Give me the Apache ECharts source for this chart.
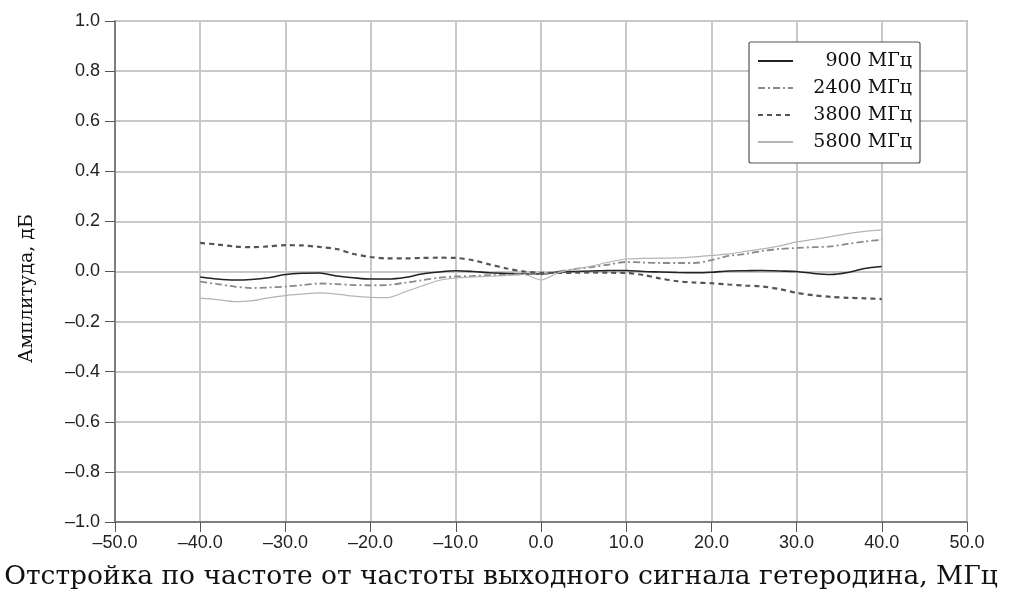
<!DOCTYPE html>
<html><head><meta charset="utf-8">
<script src="https://cdn.jsdelivr.net/npm/echarts@6/dist/echarts.min.js"></script>
<style>html,body{margin:0;padding:0;background:#fff}#c{width:1009px;height:599px}</style>
</head><body><div id="c"></div>
<script>
const offsets = [-40,-38,-36,-34,-32,-30,-28,-26,-24,-22,-20,-18,-16,-14,-12,-10,-8,-6,-4,-2,0,2,4,6,8,10,12,14,16,18,20,22,24,26,28,30,32,34,36,38,40];
const seriesNames = ['900 МГц','2400 МГц','3800 МГц','5800 МГц'];
const amp900 = [-0.022,-0.03,-0.034,-0.032,-0.025,-0.012,-0.007,-0.006,-0.018,-0.025,-0.03,-0.03,-0.024,-0.01,-0.002,0.003,0.0,-0.005,-0.008,-0.01,-0.01,-0.002,0.0,0.002,0.004,0.004,0.0,-0.002,-0.004,-0.005,-0.003,0.002,0.003,0.004,0.002,0.0,-0.008,-0.012,-0.004,0.012,0.02];
const amp2400 = [-0.04,-0.05,-0.06,-0.066,-0.064,-0.06,-0.054,-0.048,-0.05,-0.054,-0.055,-0.054,-0.045,-0.035,-0.025,-0.02,-0.018,-0.015,-0.013,-0.01,-0.01,0.0,0.01,0.018,0.028,0.038,0.036,0.034,0.034,0.034,0.045,0.062,0.07,0.082,0.09,0.094,0.097,0.1,0.11,0.12,0.126];
const amp3800 = [0.114,0.108,0.1,0.097,0.1,0.105,0.104,0.098,0.09,0.07,0.058,0.052,0.052,0.054,0.055,0.054,0.045,0.028,0.012,0.0,-0.005,-0.006,-0.005,-0.004,-0.005,-0.006,-0.014,-0.028,-0.039,-0.044,-0.047,-0.052,-0.056,-0.06,-0.07,-0.085,-0.095,-0.101,-0.105,-0.107,-0.11];
const amp5800 = [-0.106,-0.112,-0.12,-0.117,-0.105,-0.096,-0.09,-0.085,-0.09,-0.098,-0.103,-0.104,-0.082,-0.058,-0.036,-0.026,-0.022,-0.019,-0.016,-0.012,-0.034,-0.005,0.01,0.022,0.038,0.05,0.052,0.053,0.054,0.058,0.064,0.07,0.08,0.09,0.102,0.118,0.128,0.139,0.151,0.16,0.166];
const xTitle = 'Отстройка по частоте от частоты выходного сигнала гетеродина, МГц';
const yTitle = 'Амплитуда, дБ';

const pair = a => offsets.map((x,i)=>[x,a[i]]);
const fmt = v => v.toFixed(1).replace('-', '\u2013');
const chart = echarts.init(document.getElementById('c'));
const styles = [
  {color:'#222', width:1.6, type:'solid'},
  {color:'#8a8a8a', width:1.8, type:[7,3,2,3]},
  {color:'#555', width:2.2, type:[5,4]},
  {color:'#b4b4b4', width:1.2, type:'solid'}
];
const datas = [amp900, amp2400, amp3800, amp5800];
chart.setOption({
  animation:false,
  grid:{left:115, right:42, top:21, bottom:77, show:true, borderColor:'#777', borderWidth:1.5,
        containLabel:false, outerBoundsMode:'none'},
  legend:{
    orient:'vertical', right:89, top:42, itemWidth:35, itemHeight:12, itemGap:7,
    padding:[9,8,11,8], borderColor:'#555', borderWidth:1.2, borderRadius:2, backgroundColor:'#fff',
    itemStyle:{opacity:0},
    formatter: n => '{a|'+n+'}',
    textStyle:{fontFamily:'DejaVu Serif', fontSize:19, color:'#111', lineHeight:20,
      rich:{a:{width:114, align:'right', fontFamily:'DejaVu Serif', fontSize:19, color:'#111', lineHeight:20}}},
    data: seriesNames
  },
  xAxis:{
    type:'value', min:-50, max:50, interval:10,
    name:xTitle, nameLocation:'middle', nameGap:42,
    nameTextStyle:{fontFamily:'DejaVu Serif', fontSize:26.5, color:'#111', padding:[0,80,0,0]},
    axisLine:{onZero:false, lineStyle:{color:'#666', width:1.5}},
    axisTick:{show:true, length:10, lineStyle:{color:'#555'}},
    axisLabel:{formatter:fmt, fontFamily:'Liberation Sans', fontSize:18, color:'#222', margin:12},
    splitLine:{show:true, lineStyle:{color:'#c8c8c8', width:2}}
  },
  yAxis:{
    type:'value', min:-1, max:1, interval:0.2,
    name:yTitle, nameLocation:'middle', nameGap:78, nameRotate:90,
    nameTextStyle:{fontFamily:'DejaVu Serif', fontSize:19, color:'#111', padding:[0,34,0,0]},
    axisLine:{show:true, onZero:false, lineStyle:{color:'#666', width:1.5}},
    axisTick:{show:true, length:10, lineStyle:{color:'#555'}},
    axisLabel:{formatter:fmt, fontFamily:'Liberation Sans', fontSize:18, color:'#222', margin:15},
    splitLine:{show:true, lineStyle:{color:'#c8c8c8', width:2}}
  },
  series: seriesNames.map((n,i)=>({
    name:n, type:'line', data:pair(datas[i]), symbol:'none', smooth:0.3,
    lineStyle:styles[i], itemStyle:{color:styles[i].color}
  }))
});
</script></body></html>
